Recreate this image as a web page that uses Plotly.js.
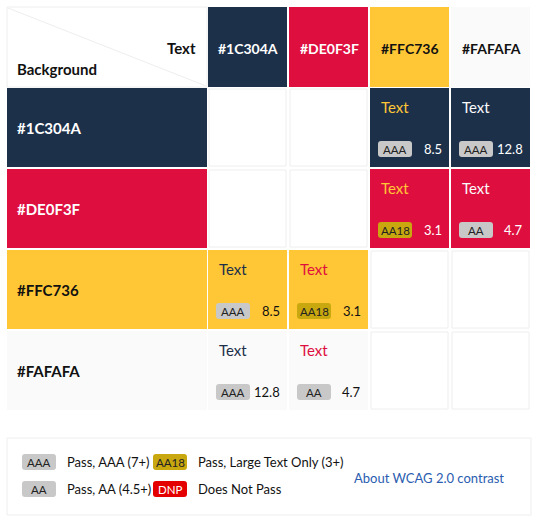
<!DOCTYPE html>
<html><head><meta charset="utf-8">
<script src="https://cdn.plot.ly/plotly-3.0.1.min.js"></script>
<style>body{margin:0;background:#fff}</style></head>
<body><div id="g" style="width:538px;height:524px"></div>
<script>
const colors = ['#1C304A','#DE0F3F','#FFC736','#FAFAFA'];
const labelColors = ['#ffffff','#ffffff','#111111','#111111'];
// contrast ratios: rows = background, columns = text colour
const ratios = [
  [null, null, 8.5, 12.8],
  [null, null, 3.1, 4.7],
  [8.5, 3.1, null, null],
  [12.8, 4.7, null, null]
];
const legendBadges = ['AAA','AA18','AA','DNP'];
const legendTexts = ['Pass, AAA (7+)','Pass, Large Text Only (3+)','Pass, AA (4.5+)','Does Not Pass'];
const badgeColors = {AAA:'#c8c8c8', AA:'#c8c8c8', AA18:'#c9a80f', DNP:'#e50000'};
const badgeText = {AAA:'#222', AA:'#222', AA18:'#222', DNP:'#fff'};

const F = 'Lato, "Open Sans", sans-serif';
const colLeft = [208, 289, 370, 451], cw = 80;
const rowTop = [88, 169, 250, 331], rh = 80;
const shapes = [], ann = [];
function rr(x0,y0,x1,y1,r){return `M${x0+r},${y0} L${x1-r},${y0} Q${x1},${y0} ${x1},${y0+r} L${x1},${y1-r} Q${x1},${y1} ${x1-r},${y1} L${x0+r},${y1} Q${x0},${y1} ${x0},${y1-r} L${x0},${y0+r} Q${x0},${y0} ${x0+r},${y0} Z`;}
function rect(x0,y0,x1,y1,fill,line){shapes.push({type:'rect',xref:'x',yref:'y',x0,y0,x1,y1,fillcolor:fill,line:{color:line||fill,width:line?1:0},layer:'below'});}
function txt(x,y,t,size,color,bold,anchor){ann.push({x,y,xref:'x',yref:'y',text:bold?'<b>'+t+'</b>':t,showarrow:false,xanchor:anchor||'left',yanchor:'middle',font:{family:F,size,color}});}
function badge(x,y,b){shapes.push({type:'path',xref:'x',yref:'y',path:rr(x,y-8,x+34,y+8,3),fillcolor:badgeColors[b],line:{width:0}});txt(x+17,y,b,11.5,badgeText[b],false,'center');}
function grade(r){return r>=7?'AAA':r>=4.5?'AA':r>=3?'AA18':'DNP';}

// header corner
rect(7,7,207,87,'#fff','#eeeeee');
shapes.push({type:'line',xref:'x',yref:'y',x0:8,y0:8,x1:206,y1:86,line:{color:'#eeeeee',width:1}});
txt(198,48,'Text',15,'#111',true,'right');
txt(15,69,'Background',15,'#111',true);
// column headers
colors.forEach((c,j)=>{rect(colLeft[j],7,colLeft[j]+cw-1,87,c);txt(colLeft[j]+cw/2,48,c,14,labelColors[j],true,'center');});
// rows
colors.forEach((bg,i)=>{
  const t=rowTop[i];
  rect(7,t,207,t+rh-1,bg);
  txt(15,t+40,bg,15,labelColors[i],true);
  colors.forEach((fg,j)=>{
    const x=colLeft[j], r=ratios[i][j];
    if(r===null){rect(x+1,t+1,x+cw-2,t+rh-2,'#fff','#eeeeee');return;}
    rect(x,t,x+cw-1,t+rh-1,bg);
    txt(x+9,t+19,'Text',15,fg,false);
    badge(x+8,t+61,grade(r));
    txt(x+cw-6,t+61,r.toFixed(1),13,labelColors[i],false,'right');
  });
});
// legend
rect(7,438,531,515,'#fff','#eeeeee');
const lx=[22,153], ly=[462,489];
legendBadges.forEach((b,k)=>{const x=lx[k%2], y=ly[Math.floor(k/2)];badge(x,y,b);txt(x+43,y,legendTexts[k],13,'#111',false);});
txt(429,478,'About WCAG 2.0 contrast',13,'#2a5db0',false,'center');

Plotly.newPlot('g',[{x:[0],y:[0],mode:'markers',marker:{opacity:0},hoverinfo:'skip'}],{
  width:538,height:524,margin:{l:0,r:0,t:0,b:0},paper_bgcolor:'#fff',plot_bgcolor:'#fff',showlegend:false,
  xaxis:{range:[0,538],visible:false,fixedrange:true},
  yaxis:{range:[524,0],visible:false,fixedrange:true},
  shapes,annotations:ann
},{displayModeBar:false,staticPlot:true});
</script></body></html>
